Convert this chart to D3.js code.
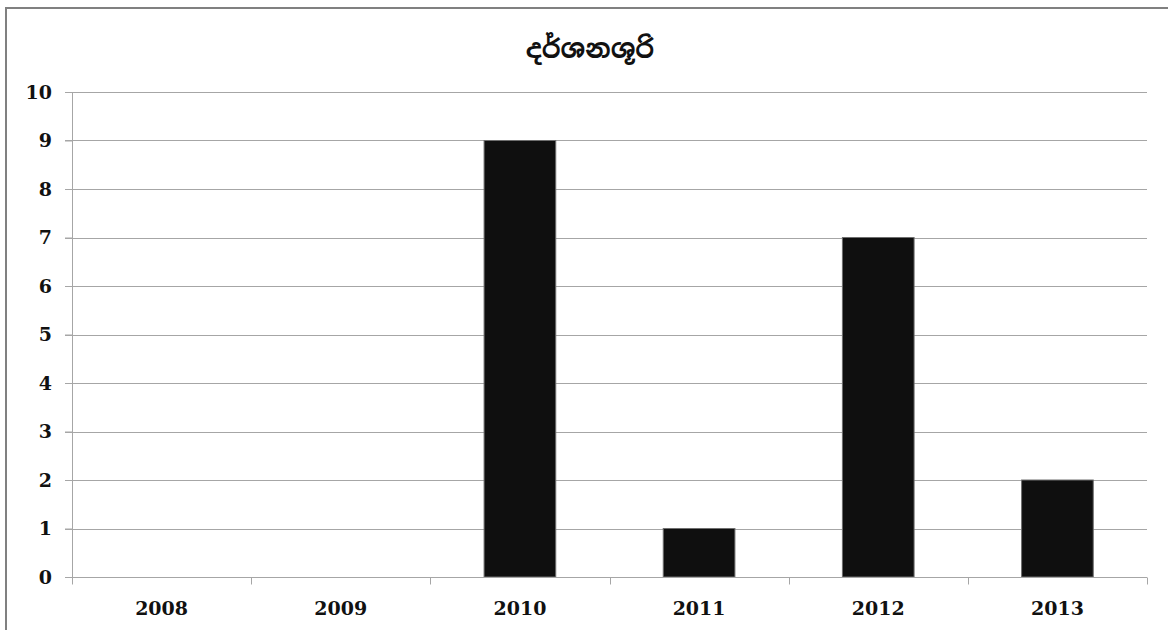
<!DOCTYPE html>
<html>
<head>
<meta charset="utf-8">
<script src="https://cdn.jsdelivr.net/npm/d3@7"></script>
<style>
  body { margin: 0; background: #fff; }
  text { font-family: "DejaVu Serif", "Liberation Serif", serif; }
</style>
</head>
<body>
<script>
var years = ["2008", "2009", "2010", "2011", "2012", "2013"];
var counts = [0, 0, 9, 1, 7, 2];
var yTicks = [0, 1, 2, 3, 4, 5, 6, 7, 8, 9, 10];
var title = "දර්ශනශූරි";

var margin = {top: 92, right: 21, bottom: 53, left: 72}
  , width = 1168 - margin.left - margin.right
  , height = 630 - margin.top - margin.bottom;

var svg = d3.select("body").append("svg")
    .attr("width", 1168)
    .attr("height", 630);

// outer frame
svg.append("rect")
    .attr("x", 6).attr("y", 8)
    .attr("width", 1170).attr("height", 640)
    .attr("fill", "none")
    .attr("stroke", "#808080")
    .attr("stroke-width", 2);

var g = svg.append("g")
    .attr("transform", "translate(" + margin.left + "," + margin.top + ")");

var xScale = d3.scaleBand()
    .domain(years)
    .range([0, width])
    .padding(0);

var yScale = d3.scaleLinear()
    .domain([0, 10])
    .range([height, 0]);

// gridlines
g.append("g")
    .selectAll("line")
    .data(yTicks.slice(1))
    .enter().append("line")
    .attr("x1", -7).attr("x2", width)
    .attr("y1", function(d) { return Math.round(yScale(d)) + 0.5; })
    .attr("y2", function(d) { return Math.round(yScale(d)) + 0.5; })
    .attr("stroke", "#a6a6a6")
    .attr("stroke-width", 1);

// bars
var barW = xScale.bandwidth() * 0.4;
g.selectAll(".bar")
    .data(years)
    .enter().append("rect")
    .attr("class", "bar")
    .attr("x", function(d) { return xScale(d) + (xScale.bandwidth() - barW) / 2; })
    .attr("y", function(d, i) { return yScale(counts[i]); })
    .attr("width", barW)
    .attr("height", function(d, i) { return height - yScale(counts[i]); })
    .attr("fill", "#0f0f0f")
    .attr("stroke", "#6e6e6e")
    .attr("stroke-width", 1);

// y axis
var yAxis = g.append("g")
    .call(d3.axisLeft(yScale).tickValues(yTicks).tickSize(7).tickPadding(13).tickFormat(d3.format("d")));
yAxis.selectAll("line").attr("stroke", "#a6a6a6");
yAxis.select(".domain").attr("stroke", "#a6a6a6").attr("d", "M0.5,0V" + height);
yAxis.selectAll("text")
    .style("font-size", "19px")
    .style("font-weight", "bold")
    .attr("fill", "#111")
    .attr("font-family", "DejaVu Serif");

// x axis
var xAxis = g.append("g")
    .attr("transform", "translate(0," + (Math.round(height) + 0.5) + ")");
xAxis.append("line")
    .attr("x1", -7).attr("x2", width)
    .attr("stroke", "#a6a6a6");
xAxis.selectAll(".tickmark")
    .data(years.concat(["end"]))
    .enter().append("line")
    .attr("x1", function(d, i) { return Math.round(i * xScale.step()) + 0.5; })
    .attr("x2", function(d, i) { return Math.round(i * xScale.step()) + 0.5; })
    .attr("y1", 0).attr("y2", 7)
    .attr("stroke", "#a6a6a6");
xAxis.selectAll(".label")
    .data(years)
    .enter().append("text")
    .attr("x", function(d) { return xScale(d) + xScale.bandwidth() / 2; })
    .attr("y", 37)
    .attr("text-anchor", "middle")
    .style("font-size", "19px")
    .style("font-weight", "bold")
    .attr("fill", "#111")
    .text(function(d) { return d; });

// title
svg.append("text")
    .attr("x", 590)
    .attr("y", 58)
    .attr("text-anchor", "middle")
    .style("font-size", "26px")
    .style("font-weight", "bold")
    .style("font-family", "'Noto Sans Sinhala', 'Noto Serif Sinhala', 'Iskoola Pota', sans-serif")
    .attr("fill", "#111")
    .text(title);
</script>
</body>
</html>
